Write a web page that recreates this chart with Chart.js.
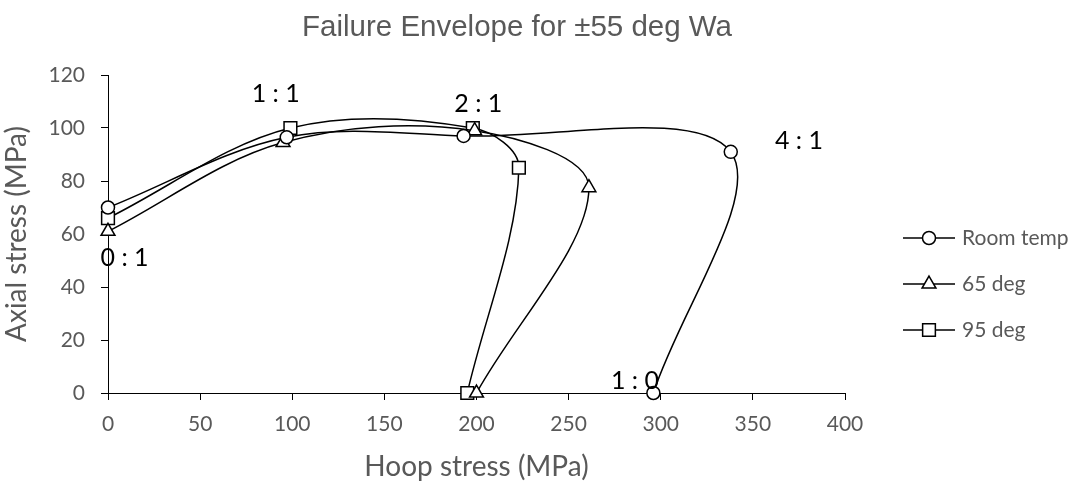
<!DOCTYPE html>
<html lang="en">
<head>
    <meta charset="UTF-8">
    <title>Failure Envelope for ±55 deg Wa</title>
    <script src="https://cdn.jsdelivr.net/npm/chart.js"></script>
    <style>
        body {
            margin: 0;
            background: #fff;
        }

        .chart-container {
            width: 1079px;
            height: 484px;
            position: relative;
        }
    </style>
</head>
<body>

    <div class="chart-container">
        <canvas id="envelopeChart"></canvas>
    </div>

    <script>
        // Data (hoop, axial stress in MPa) - order 0:1, 1:1, 2:1, 4:1, 1:0
        const seriesNames = ['Room temp', '65 deg', '95 deg'];
        const markerStyles = ['circle', 'triangle', 'rect'];
        const markerSizes = [6.5, 8, 9];

        const hoopRoom = [0, 97, 193, 338, 296];
        const axialRoom = [70, 96.5, 97, 91, 0];
        const hoop65 = [0, 95, 199, 261, 200];
        const axial65 = [61, 94.5, 99, 77.5, 0];
        const hoop95 = [0, 99, 198, 223, 195];
        const axial95 = [66, 100, 100, 85, 0];

        const ratioLabels = ['0 : 1', '1 : 1', '2 : 1', '4 : 1', '1 : 0'];
        const ratioX = [9, 91, 201, 375, 286];
        const ratioY = [51, 113, 109, 95, 4.6];

        const xTicks = [0, 50, 100, 150, 200, 250, 300, 350, 400];
        const yTicks = [0, 20, 40, 60, 80, 100, 120];

        const grey = '#595959';
        const tickFont = { family: 'Lato', size: 21 };

        function toPoints(xs, ys) {
            return xs.map((x, i) => ({ x: x, y: ys[i] }));
        }

        const allX = [hoopRoom, hoop65, hoop95];
        const allY = [axialRoom, axial65, axial95];

        const datasets = seriesNames.map((name, i) => ({
            label: name,
            data: toPoints(allX[i], allY[i]),
            showLine: true,
            tension: 0.34,
            borderColor: '#000',
            borderWidth: 1.5,
            backgroundColor: '#fff',
            pointStyle: markerStyles[i],
            pointRadius: markerSizes[i],
            pointBorderWidth: 1.5,
            pointBackgroundColor: '#fff',
            pointBorderColor: '#000',
            clip: false
        }));

        // titre, étiquettes de rapport et légende dessinés à la main
        const extrasPlugin = {
            id: 'extras',
            afterDraw(chart) {
                const ctx = chart.ctx;
                const xs = chart.scales.x;
                const ys = chart.scales.y;
                ctx.save();

                ctx.fillStyle = grey;
                ctx.font = '29.5px "Liberation Sans", Arial, sans-serif';
                ctx.textAlign = 'center';
                ctx.textBaseline = 'alphabetic';
                ctx.fillText('Failure Envelope for ±55 deg Wa', 517, 36);

                ctx.fillStyle = '#000';
                ctx.font = '25px Lato';
                ctx.textBaseline = 'middle';
                for (let i = 0; i < ratioLabels.length; i++) {
                    ctx.fillText(ratioLabels[i], xs.getPixelForValue(ratioX[i]), ys.getPixelForValue(ratioY[i]));
                }

                const legendY = [238, 284, 330];
                for (let i = 0; i < seriesNames.length; i++) {
                    const y = legendY[i];
                    ctx.strokeStyle = '#000';
                    ctx.lineWidth = 1.5;
                    ctx.beginPath();
                    ctx.moveTo(903, y);
                    ctx.lineTo(955, y);
                    ctx.stroke();
                    ctx.fillStyle = '#fff';
                    Chart.helpers.drawPoint(ctx, {
                        pointStyle: markerStyles[i],
                        radius: markerSizes[i],
                        rotation: 0,
                        borderWidth: 1.5
                    }, 929, y);
                    ctx.fillStyle = grey;
                    ctx.font = '21px Lato';
                    ctx.textAlign = 'left';
                    ctx.fillText(seriesNames[i], 962, y);
                }
                ctx.restore();
            }
        };

        const ctx = document.getElementById('envelopeChart').getContext('2d');
        const envelopeChart = new Chart(ctx, {
            type: 'scatter',
            data: { datasets: datasets },
            options: {
                responsive: true,
                maintainAspectRatio: false,
                animation: false,
                layout: {
                    padding: { left: 0, right: 234, top: 75, bottom: 0 }
                },
                plugins: {
                    legend: { display: false },
                    title: { display: false },
                    tooltip: { enabled: false }
                },
                scales: {
                    x: {
                        type: 'linear',
                        min: xTicks[0],
                        max: xTicks[xTicks.length - 1],
                        afterFit: (scale) => { scale.height = 91; },
                        afterBuildTicks: (scale) => { scale.ticks = xTicks.map(v => ({ value: v })); },
                        grid: {
                            drawOnChartArea: false,
                            color: '#000',
                            tickLength: 7
                        },
                        border: { color: '#000', width: 1 },
                        ticks: { color: grey, font: tickFont, padding: 12, maxRotation: 0 },
                        title: {
                            display: true,
                            text: 'Hoop stress (MPa)',
                            color: grey,
                            font: { family: 'Lato', size: 28 },
                            padding: { top: 0, bottom: 0 }
                        }
                    },
                    y: {
                        type: 'linear',
                        min: yTicks[0],
                        max: yTicks[yTicks.length - 1],
                        afterFit: (scale) => { scale.width = 108; },
                        afterBuildTicks: (scale) => { scale.ticks = yTicks.map(v => ({ value: v })); },
                        grid: {
                            drawOnChartArea: false,
                            color: '#000',
                            tickLength: 7
                        },
                        border: { color: '#000', width: 1 },
                        ticks: { color: grey, font: tickFont, padding: 16 },
                        title: {
                            display: true,
                            text: 'Axial stress (MPa)',
                            color: grey,
                            font: { family: 'Lato', size: 28 },
                            padding: { top: 0, bottom: 8 }
                        }
                    }
                }
            },
            plugins: [extrasPlugin]
        });
    </script>

</body>
</html>
